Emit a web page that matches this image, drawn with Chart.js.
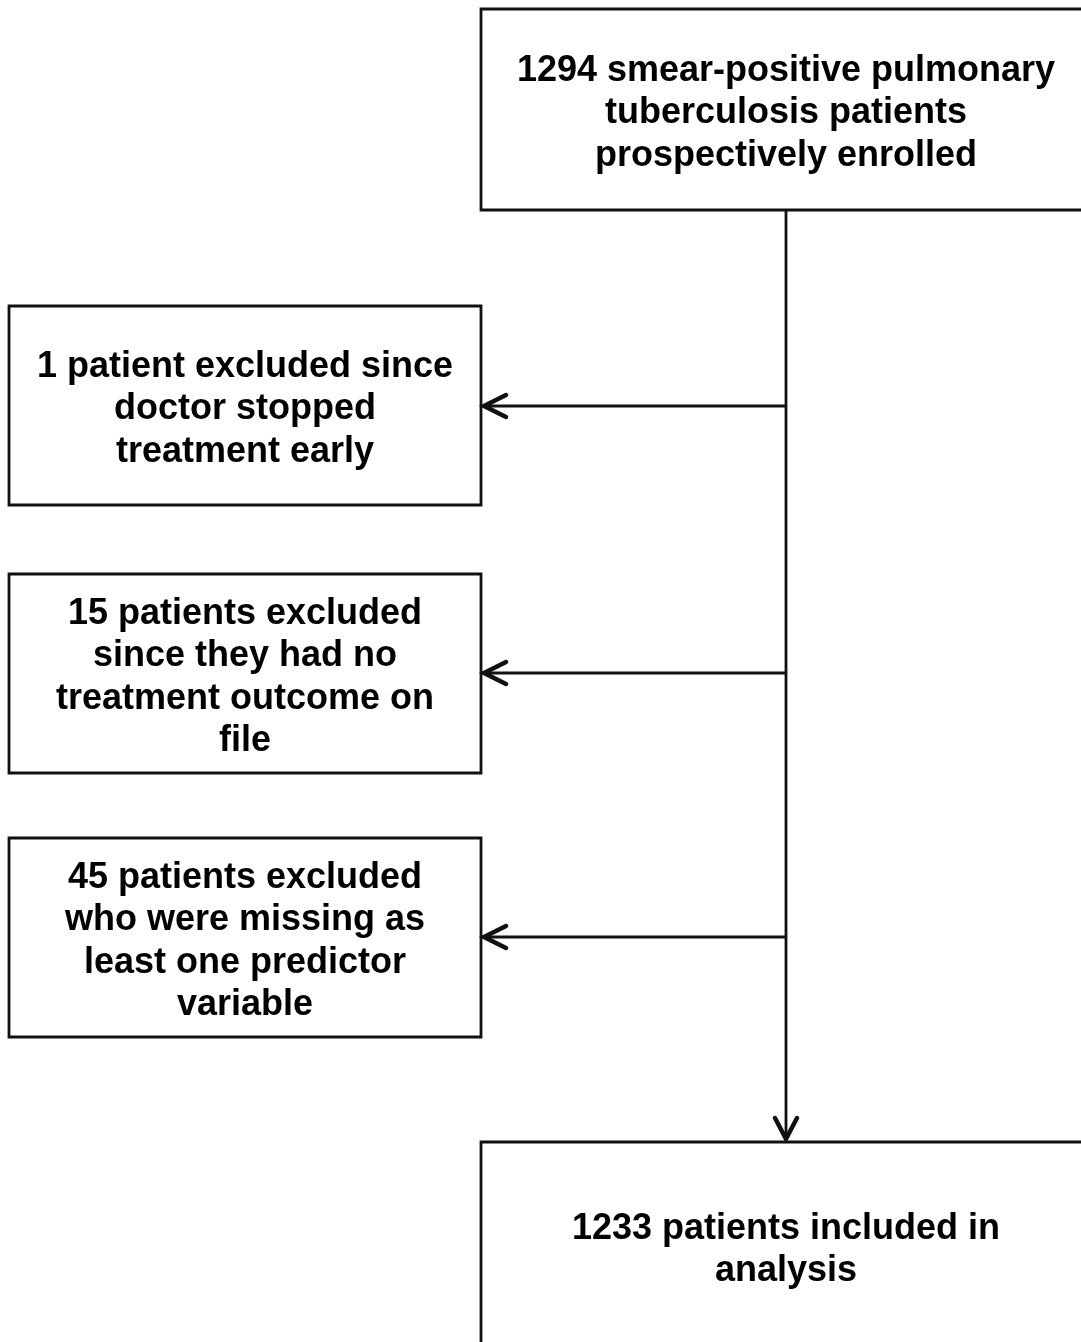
<!DOCTYPE html>
<html>
<head>
<meta charset="utf-8">
<script src="https://cdn.jsdelivr.net/npm/chart.js@4/dist/chart.umd.min.js"></script>
<style>
  html, body { margin: 0; padding: 0; background: #fff; overflow: hidden; }
  #wrap { width: 1081px; height: 1342px; }
</style>
</head>
<body>
<div id="wrap"><canvas id="c" width="1081" height="1342"></canvas></div>
<script>
// Flowchart content
const boxLabels = [
  ["1294 smear-positive pulmonary", "tuberculosis patients", "prospectively enrolled"],
  ["1 patient excluded since", "doctor stopped", "treatment early"],
  ["15 patients excluded", "since they had no", "treatment outcome on", "file"],
  ["45 patients excluded", "who were missing as", "least one predictor", "variable"],
  ["1233 patients included in", "analysis"]
];
// Box extents in diagram units [x0, x1, y0, y1]
const boxX0 = [481, 9, 9, 9, 481];
const boxX1 = [1091, 481, 481, 481, 1091];
const boxY0 = [9, 306, 574, 838, 1142];
const boxY1 = [210, 505, 773, 1037, 1350];
// Connectors
const trunkX = 786;
const trunkY = [210, 1139];
const branchY = [406, 673, 937];
const branchTipX = 484;

const INK = '#111111';
const datasets = [];
for (let i = 0; i < boxLabels.length; i++) {
  datasets.push({
    data: [
      {x: boxX0[i], y: boxY0[i]}, {x: boxX1[i], y: boxY0[i]},
      {x: boxX1[i], y: boxY1[i]}, {x: boxX0[i], y: boxY1[i]},
      {x: boxX0[i], y: boxY0[i]}
    ],
    borderColor: INK, borderWidth: 2.8, pointRadius: 0, fill: false, tension: 0,
    borderCapStyle: 'square'
  });
}
datasets.push({
  data: [{x: trunkX, y: trunkY[0]}, {x: trunkX, y: trunkY[1]}],
  borderColor: INK, borderWidth: 2.8, pointRadius: 0
});
datasets.push({
  data: [{x: trunkX - 11, y: trunkY[1] - 21}, {x: trunkX, y: trunkY[1]}, {x: trunkX + 11, y: trunkY[1] - 21}],
  borderColor: INK, borderWidth: 4.5, pointRadius: 0, borderCapStyle: 'round', borderJoinStyle: 'miter'
});
branchY.forEach(y => {
  datasets.push({
    data: [{x: trunkX, y: y}, {x: branchTipX, y: y}],
    borderColor: INK, borderWidth: 2.8, pointRadius: 0
  });
  datasets.push({
    data: [{x: branchTipX + 22, y: y - 11}, {x: branchTipX, y: y}, {x: branchTipX + 22, y: y + 11}],
    borderColor: INK, borderWidth: 4.5, pointRadius: 0, borderCapStyle: 'round', borderJoinStyle: 'miter'
  });
});

const textPlugin = {
  id: 'boxText',
  afterDatasetsDraw(chart) {
    const {ctx, scales: {x, y}} = chart;
    ctx.save();
    ctx.fillStyle = '#000';
    ctx.font = 'bold 36px "Liberation Sans", Arial, sans-serif';
    ctx.textAlign = 'center';
    ctx.textBaseline = 'middle';
    const lh = 42.5;
    boxLabels.forEach((lines, i) => {
      const cx = x.getPixelForValue((boxX0[i] + boxX1[i]) / 2);
      const cy = y.getPixelForValue((boxY0[i] + boxY1[i]) / 2);
      const start = cy - (lines.length - 1) * lh / 2;
      lines.forEach((t, k) => ctx.fillText(t, cx, start + k * lh + 4));
    });
    ctx.restore();
  }
};

new Chart(document.getElementById('c'), {
  type: 'line',
  data: { datasets },
  options: {
    responsive: false,
    animation: false,
    layout: { padding: 0 },
    plugins: { legend: { display: false }, tooltip: { enabled: false } },
    scales: {
      x: { type: 'linear', min: 0, max: 1081, display: false },
      y: { type: 'linear', min: 0, max: 1342, reverse: true, display: false }
    },
    elements: { line: { borderJoinStyle: 'miter' } }
  },
  plugins: [textPlugin]
});
</script>
</body>
</html>
